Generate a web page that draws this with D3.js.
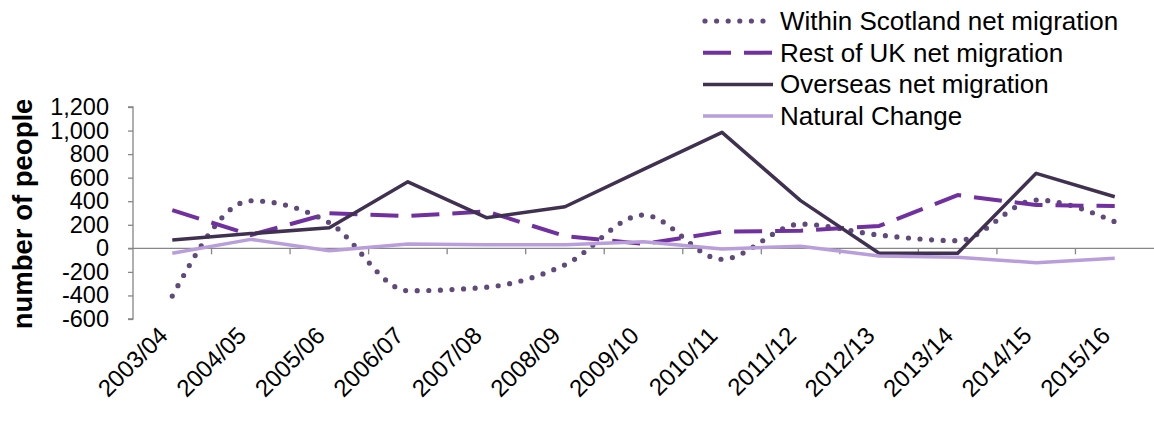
<!DOCTYPE html>
<html>
<head>
<meta charset="utf-8">
<script src="https://cdn.jsdelivr.net/npm/d3@7"></script>
<style>
  body { margin: 0; background: #fff; }
  text { font-family: Arial, "Liberation Sans", sans-serif; }
</style>
</head>
<body>
<div id="container"></div>
<script>
// data
const years = ["2003/04","2004/05","2005/06","2006/07","2007/08","2008/09","2009/10",
               "2010/11","2011/12","2012/13","2013/14","2014/15","2015/16"];
const withinScotland = [-405, 404, 217, -360, -330, -140, 283, -93, 206, 113, 65, 410, 226];
const restOfUK       = [325, 113, 297, 274, 314, 104, 37, 141, 150, 190, 452, 368, 359];
const overseas       = [70, 125, 175, 565, 260, 353, 670, 985, 405, -42, -42, 637, 438];
const naturalChange  = [-42, 76, -20, 37, 30, 30, 56, -5, 18, -65, -76, -122, -85];
const yTicks = [-600, -400, -200, 0, 200, 400, 600, 800, 1000, 1200];

const series = [
  {name: "Within Scotland net migration", values: withinScotland, color: "#604a7b", width: 5.2, dash: "0,11.6", cap: "round", smooth: true},
  {name: "Rest of UK net migration", values: restOfUK, color: "#7030a0", width: 4, dash: "28,13", cap: "butt", smooth: false},
  {name: "Overseas net migration", values: overseas, color: "#403151", width: 3.5, dash: null, cap: "butt", smooth: false},
  {name: "Natural Change", values: naturalChange, color: "#b99edb", width: 3.5, dash: null, cap: "butt", smooth: false}
];

let viz = d3.select("#container")
  .append("svg")
    .attr("width", 1154)
    .attr("height", 421);

const x = d3.scaleBand().domain(years).range([133, 1154]);
const y = d3.scaleLinear().domain([-600, 1200]).range([319, 107]);

// y axis
const fmt = d3.format(",");
const yAxis = viz.append("g")
    .attr("transform", "translate(133,0)")
    .call(d3.axisLeft(y).tickValues(yTicks).tickSize(5).tickPadding(19)
      .tickFormat(d => fmt(d).replace("\u2212", "-")));
yAxis.selectAll("path, line").attr("stroke", "#868686").attr("stroke-width", 1.3);
yAxis.select(".domain").attr("d", "M-5,107H0V319H-5");
yAxis.selectAll("text")
    .attr("font-size", 23.5)
    .attr("fill", "#000")
    .style("font-family", "Arial, 'Liberation Sans', sans-serif");

// x axis at zero
const xAxis = viz.append("g")
    .attr("transform", "translate(0," + y(0) + ")");
xAxis.append("line")
    .attr("x1", 128).attr("x2", 1154)
    .attr("y1", 0).attr("y2", 0)
    .attr("stroke", "#868686").attr("stroke-width", 1.3);
xAxis.selectAll(".tk")
  .data(years.slice(1))
  .enter().append("line")
    .attr("x1", d => x(d)).attr("x2", d => x(d))
    .attr("y1", 0).attr("y2", 6)
    .attr("stroke", "#868686").attr("stroke-width", 1.3);

// x labels rotated
viz.selectAll(".xl")
  .data(years)
  .enter().append("text")
    .text(d => d)
    .attr("font-size", 24)
    .attr("text-anchor", "end")
    .attr("transform", d => "translate(" + (x(d) + x.bandwidth() / 2 - 3) + ",337) rotate(-45)");

// y title
viz.append("text")
    .text("number of people")
    .attr("font-size", 27.5)
    .attr("font-weight", "bold")
    .attr("text-anchor", "middle")
    .attr("transform", "translate(32,214) rotate(-90)");

// lines
series.forEach(s => {
  const line = d3.line()
    .x((d, i) => x(years[i]) + x.bandwidth() / 2)
    .y(d => y(d))
    .curve(s.smooth ? d3.curveMonotoneX : d3.curveLinear);
  viz.append("path")
      .datum(s.values)
      .attr("d", line)
      .attr("fill", "none")
      .attr("stroke", s.color)
      .attr("stroke-width", s.width)
      .attr("stroke-dasharray", s.dash)
      .attr("stroke-linecap", s.cap)
      .attr("stroke-linejoin", "round");
});

// legend
const legend = viz.append("g");
series.forEach((s, i) => {
  const ly = 21 + i * 31.7;
  legend.append("line")
      .attr("x1", s.smooth ? 705 : 703).attr("x2", 773)
      .attr("y1", ly).attr("y2", ly)
      .attr("stroke", s.color)
      .attr("stroke-width", s.width)
      .attr("stroke-dasharray", s.dash)
      .attr("stroke-linecap", s.cap);
  legend.append("text")
      .text(s.name)
      .attr("font-size", 26)
      .attr("x", 780)
      .attr("y", ly + 9);
});
</script>
</body>
</html>
